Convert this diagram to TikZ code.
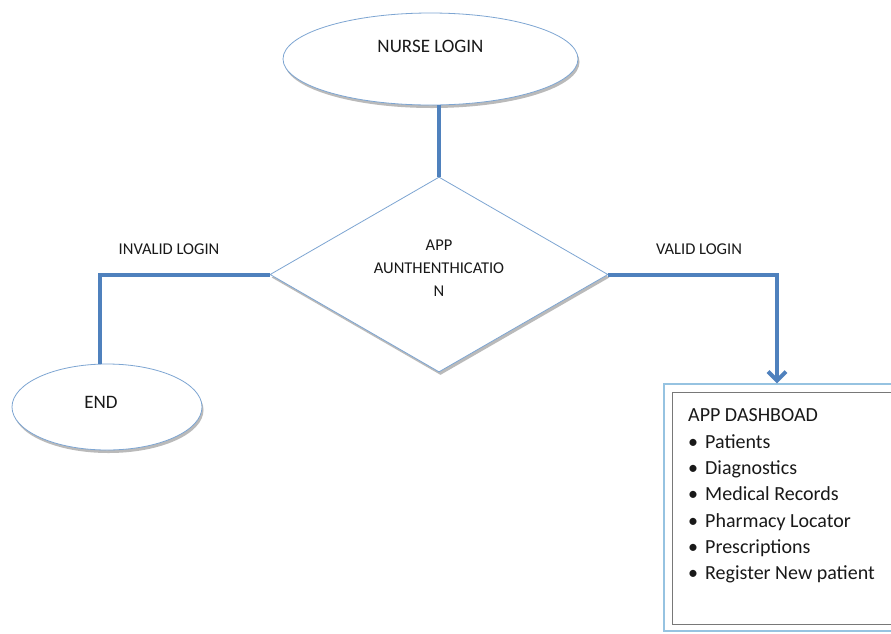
\documentclass[tikz,border=0pt]{standalone}
\usepackage{fontspec}
\setmainfont{Carlito}
\usetikzlibrary{shapes.geometric,arrows.meta,shadows}
\definecolor{connblue}{RGB}{79,129,189}
\definecolor{edgeblue}{RGB}{125,165,210}
\definecolor{boxgray}{RGB}{120,120,120}
\definecolor{boxblue}{RGB}{150,195,225}
\definecolor{txt}{RGB}{25,25,25}
\begin{document}
\begin{tikzpicture}[x=1pt,y=-1pt,
  softshadow/.style={drop shadow={shadow xshift=1.5pt, shadow yshift=-3pt, fill=black!60, opacity=.45}},
  terminal/.style={ellipse, draw=edgeblue, line width=0.8pt, fill=white, inner sep=0pt, softshadow},
  decision/.style={diamond, draw=edgeblue, line width=0.8pt, fill=white, inner sep=0pt, softshadow},
  conn/.style={draw=connblue, line width=4pt},
  lbl/.style={font=\fontsize{16.5}{23}\selectfont, text=txt, inner sep=0pt},
  bigtxt/.style={font=\fontsize{19}{23}\selectfont, text=txt, inner sep=0pt},
  dashtxt/.style={font=\fontsize{20}{26.3}\selectfont, text=txt, inner sep=0pt},
]
\useasboundingbox (0,0) rectangle (891,633);
\clip (0,0) rectangle (891,633);
\fill[white] (0,0) rectangle (891,633);

% start, decision and end shapes
\node[terminal, minimum width=295pt, minimum height=92pt,
      label={[bigtxt, yshift=13pt]center:NURSE LOGIN}] (login) at (430.5,59) {};
\node[decision, minimum width=338pt, minimum height=195pt] (auth) at (439,274.5) {};
\node[lbl, align=center] (authtext) at (439,268) {APP\\AUNTHENTHICATIO\\N};
\node[terminal, minimum width=190pt, minimum height=86pt,
      label={[bigtxt, xshift=-6pt, yshift=5pt]center:END}] (stop) at (107,407) {};

% dashboard panel
\node[draw=boxblue, line width=1.2pt, fill=white, minimum width=240pt, minimum height=247pt, inner sep=0pt] (dash) at (784,507.5) {};
\draw[boxgray, line width=1.6pt] ([xshift=9pt,yshift=-9pt]dash.north west) rectangle ([yshift=7pt]dash.south east);
\node[dashtxt, anchor=north west, align=left] (dashtext) at (688,408.8)
  {APP DASHBOAD\\
   \makebox[17pt][l]{\textbullet}Patients\\
   \makebox[17pt][l]{\textbullet}Diagnostics\\
   \makebox[17pt][l]{\textbullet}Medical Records\\
   \makebox[17pt][l]{\textbullet}Pharmacy Locator\\
   \makebox[17pt][l]{\textbullet}Prescriptions\\
   \makebox[17pt][l]{\textbullet}Register New patient};

% branch labels
\node[lbl] (invalid) at (169,249) {INVALID LOGIN};
\node[lbl] (valid) at (699,249) {VALID LOGIN};

% connectors
\draw[conn] (login.south -| auth.north) -- (auth.north);
\draw[conn] (auth.west) -| ([xshift=-7pt]stop.north);
\draw[conn, -{Straight Barb[length=9pt,width=18pt]}] (auth.east) -| ([xshift=-7pt]dash.north);
\end{tikzpicture}
\end{document}
